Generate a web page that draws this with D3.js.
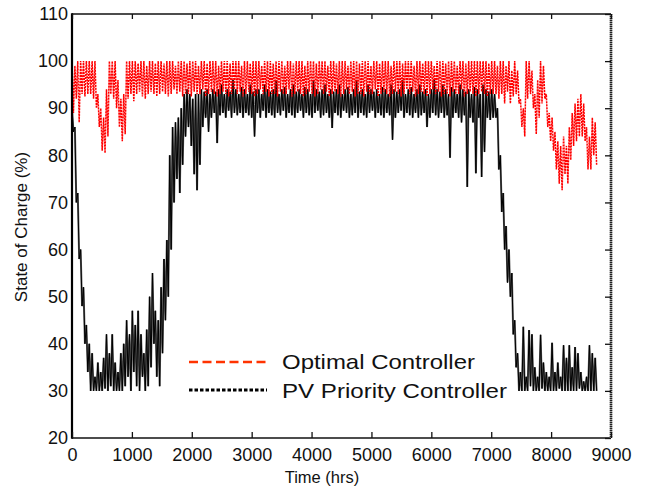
<!DOCTYPE html>
<html><head><meta charset="utf-8">
<script src="https://cdn.jsdelivr.net/npm/d3@7"></script>
<style>body{margin:0;background:#fff}svg{display:block}text{font-family:"Liberation Sans",Arial,Helvetica,sans-serif;fill:#111}</style>
</head><body>
<script>
// Block length in hours: each block holds one high and one low reading
const blockHours = 48;
const xTicks = [0,1000,2000,3000,4000,5000,6000,7000,8000,9000];
const yTicks = [20,30,40,50,60,70,80,90,100,110];
const seriesNames = ["Optimal Controller","PV Priority Controller"];

const optHi = [
100,99,100,100,100,100,100,100,100,93,
90,88,94,100,100,100,96,92,93,100,
100,100,100,99.5,100,100,99,100,100,99.5,
100,100,99.5,100,100,100,99,100,100,100,
99.5,100,100,100,99,100,100,99.5,100,100,
100,99,100,100,100,99.5,100,100,100,99,
100,100,99.5,100,100,100,99,100,100,100,
99.5,100,100,100,99,100,100,99.5,100,100,
100,99,100,100,100,99.5,100,100,100,99,
100,100,99.5,100,100,100,99,100,100,100,
99.5,100,100,100,99,100,100,99.5,100,100,
100,99,100,100,100,99.5,100,100,100,99,
100,100,99.5,100,100,100,99,100,100,100,
99.5,100,100,100,99,100,100,99.5,100,100,
100,100,100,100,100,99.5,100,100,99,100,
100,99,100,98,100,98,92,90,100,100,
98,93,96,100,99,93,89,88,85,83,
82,84,82,86,89,91,92,93,91,86,
84,88,87];
const optLo = [
89,92,87,93,92.5,93,93,92,90,86,
81,80.5,84,93,92,90,86,83,84.5,92,
93,91.5,93,93.5,92.5,92,93,93.5,93,92.5,
93,93.5,93,92.5,93,94,93,93.5,92.5,93,
93,92.5,93.5,93,93,94,92.5,93,93.5,93,
92.5,93,93.5,93,92.5,93,94,93,93.5,92.5,
93,93.5,93,92.5,93,94,93,93.5,92.5,93,
93,92.5,93.5,93,93,94,92.5,93,93.5,93,
92.5,93,93.5,93,92.5,93,94,93,93.5,92.5,
93,93.5,93,92.5,93,94,93,93.5,92.5,93,
93,92.5,93.5,93,93,94,92.5,93,93.5,93,
92.5,93,93.5,93,92.5,93,94,93,93.5,92.5,
93,93.5,93,92.5,93,94,93,93.5,92.5,93,
93,92.5,93.5,93,93,94,92.5,93,93.5,93,
92.5,93,93.5,93,92.5,93,93,93,92,93,
91,93.5,91,92.5,93,91,86,84,92,93,
90,84.5,88,91,92,86,83,81,77,74,
72.6,76,74,79,82,83,84,84,83,77,
77,80,78];
const pvHi = [
90,86,72,60,52,44,40,38,33,36,
34,37,42,38,42,36,34,38,40,45,
42,47,44,47,42,38,43,50,55,47,
45,52,58,62,80,86,87,88,90,93,
94,93,92,93,93,94,93.5,94,93,94,
93.5,94,95,93,94,93.5,96,94,93,94.5,
94,93,95,93.5,94,94,93,95,94,93.5,
94,96,93,94,94.5,93,94,95,93.5,94,
93,94.5,94,93,96,94,93.5,94,95,93,
94,93.5,94,95,93,94,94.5,93,94,96,
93.5,94,93,95,94,93.5,94,93,94.5,94,
93,95,94,93.5,94,96,93,94,94.5,93,
94,95,93.5,94,93,94,96,94,93.5,95,
94,93,94.5,94,93,95,94,93.5,94,93,
94.5,94,93,95,94,93.5,94,93,90,80,
72,65,60,55,45,38,34,43.6,33,42.9,
42,35,33,41.9,36,34,33,40.2,34,36,
33,39.7,37,39.7,35,39.3,38,34,32,33,
39.7,38,37];
const pvLo = [
85,70,58,48,40,34,30,30,30,30,
30,30.5,30,31,30,30,30,30,31,33,
30,34,31,30,33,30,31,35,40,33,
31,38,45,50,60,70,75,72,78,84,
86,82,76,72.6,78,86,88,85,88,89,
82.6,88.5,89,88,89.5,88,89,88.5,89,88,
89,88.5,88,84,89,88,89.5,88,89,88.5,
88,89,88.5,89.5,88,89,88.5,88,89,89.5,
88,89,88.5,88,89,89.5,88,88.5,89,88,
85.8,89,88.5,88,89.5,89,88,88.5,89,88,
89,88.5,88,89,89.5,88,89,88.5,88,89,
88.5,83.3,88,89,89.5,88,89,88.5,88,89,
88,88.5,89,86,88,89,88.5,88,89,88,
88.5,79.5,88,89,88,87,88.5,73.3,88,87,
76.2,88,75.4,80.7,88,87.5,88,88,77,68,
60,53,50,42,35,30,30,30,30,31,
30,30,30,30.5,30,30,30,30,30,30.5,
30,30,30,30,30,30,30.5,30,30,30,
30,30,30];

function interleave(hi, lo){
  const pts = [];
  hi.forEach((h,k)=>{ pts.push([k*blockHours, h]); pts.push([k*blockHours+blockHours/2, lo[k]]); });
  return pts;
}

const W=649,H=489, L=72,R=611,T=14,B=438;
const svg=d3.select("body").append("svg").attr("width",W).attr("height",H);
const x=d3.scaleLinear().domain([0,9000]).range([L,R]);
const y=d3.scaleLinear().domain([20,110]).range([B,T]);
const line=d3.line().x(d=>x(d[0])).y(d=>y(d[1]));

// data
const g=svg.append("g");
g.append("path").datum(interleave(pvHi,pvLo)).attr("d",line)
  .attr("fill","none").attr("stroke","#666").attr("stroke-width",2);
g.append("path").datum(interleave(pvHi,pvLo)).attr("d",line)
  .attr("fill","none").attr("stroke","#000").attr("stroke-width",1);
g.append("path").datum(interleave(optHi,optLo)).attr("d",line)
  .attr("fill","none").attr("stroke","#ff0000").attr("stroke-width",1.5)
  .attr("stroke-dasharray","2.2,0.8");

// axes frame
svg.append("line").attr("x1",L).attr("x2",R).attr("y1",T).attr("y2",T).attr("stroke","#111").attr("stroke-width",1.5);
svg.append("line").attr("x1",L).attr("x2",R).attr("y1",B).attr("y2",B).attr("stroke","#111").attr("stroke-width",1.5);
svg.append("line").attr("x1",R).attr("x2",R).attr("y1",T).attr("y2",B).attr("stroke","#999").attr("stroke-width",2.5);
svg.append("line").attr("x1",R).attr("x2",R).attr("y1",T).attr("y2",B).attr("stroke","#222").attr("stroke-width",2.5).attr("stroke-dasharray","1,1");
svg.append("line").attr("x1",L).attr("x2",L).attr("y1",T-0.75).attr("y2",B+0.75).attr("stroke","#000").attr("stroke-width",2.2);

// x ticks (inward, top and bottom)
const xAxisB=d3.axisBottom(x).tickValues(xTicks).tickSize(-6).tickPadding(10).tickFormat(d3.format("d"));
const gxb=svg.append("g").attr("transform",`translate(0,${B})`).call(xAxisB);
gxb.select(".domain").remove();
gxb.selectAll("line").attr("stroke","#111").attr("stroke-width",1.3);
gxb.selectAll("text").attr("font-size",18).attr("fill","#111").attr("font-family","Liberation Sans, Arial, sans-serif");
const xAxisT=d3.axisTop(x).tickValues(xTicks).tickSize(-5).tickFormat("");
const gxt=svg.append("g").attr("transform",`translate(0,${T})`).call(xAxisT);
gxt.select(".domain").remove();
gxt.selectAll("line").attr("stroke","#111").attr("stroke-width",1.3);

// y ticks
const yAxisL=d3.axisLeft(y).tickValues(yTicks).tickSize(0).tickPadding(4).tickFormat(d3.format("d"));
const gyl=svg.append("g").attr("transform",`translate(${L},0)`).call(yAxisL);
gyl.select(".domain").remove();
gyl.selectAll("text").attr("font-size",18).attr("fill","#111").attr("font-family","Liberation Sans, Arial, sans-serif");
const yAxisR=d3.axisRight(y).tickValues(yTicks).tickSize(-6).tickFormat("");
const gyr=svg.append("g").attr("transform",`translate(${R},0)`).call(yAxisR);
gyr.select(".domain").remove();
gyr.selectAll("line").attr("stroke","#111").attr("stroke-width",1.3);

// axis titles
svg.append("text").attr("x",322).attr("y",483).attr("text-anchor","middle").attr("font-size",16.5).text("Time (hrs)");
svg.append("text").attr("transform","translate(27,227) rotate(-90)").attr("text-anchor","middle").attr("font-size",17).text("State of Charge (%)");

// legend
const leg=svg.append("g");
leg.append("line").attr("x1",189).attr("x2",267).attr("y1",362).attr("y2",362)
  .attr("stroke","#ff3300").attr("stroke-width",2.5).attr("stroke-dasharray","9,4.5");
leg.append("line").attr("x1",189).attr("x2",267).attr("y1",390).attr("y2",390)
  .attr("stroke","#000").attr("stroke-width",3).attr("stroke-dasharray","3.5,2");
leg.append("text").attr("x",282).attr("y",369).attr("font-size",21)
  .attr("textLength",193).attr("lengthAdjust","spacingAndGlyphs").text(seriesNames[0]);
leg.append("text").attr("x",282).attr("y",398).attr("font-size",21)
  .attr("textLength",225).attr("lengthAdjust","spacingAndGlyphs").text(seriesNames[1]);
</script>
</body></html>
